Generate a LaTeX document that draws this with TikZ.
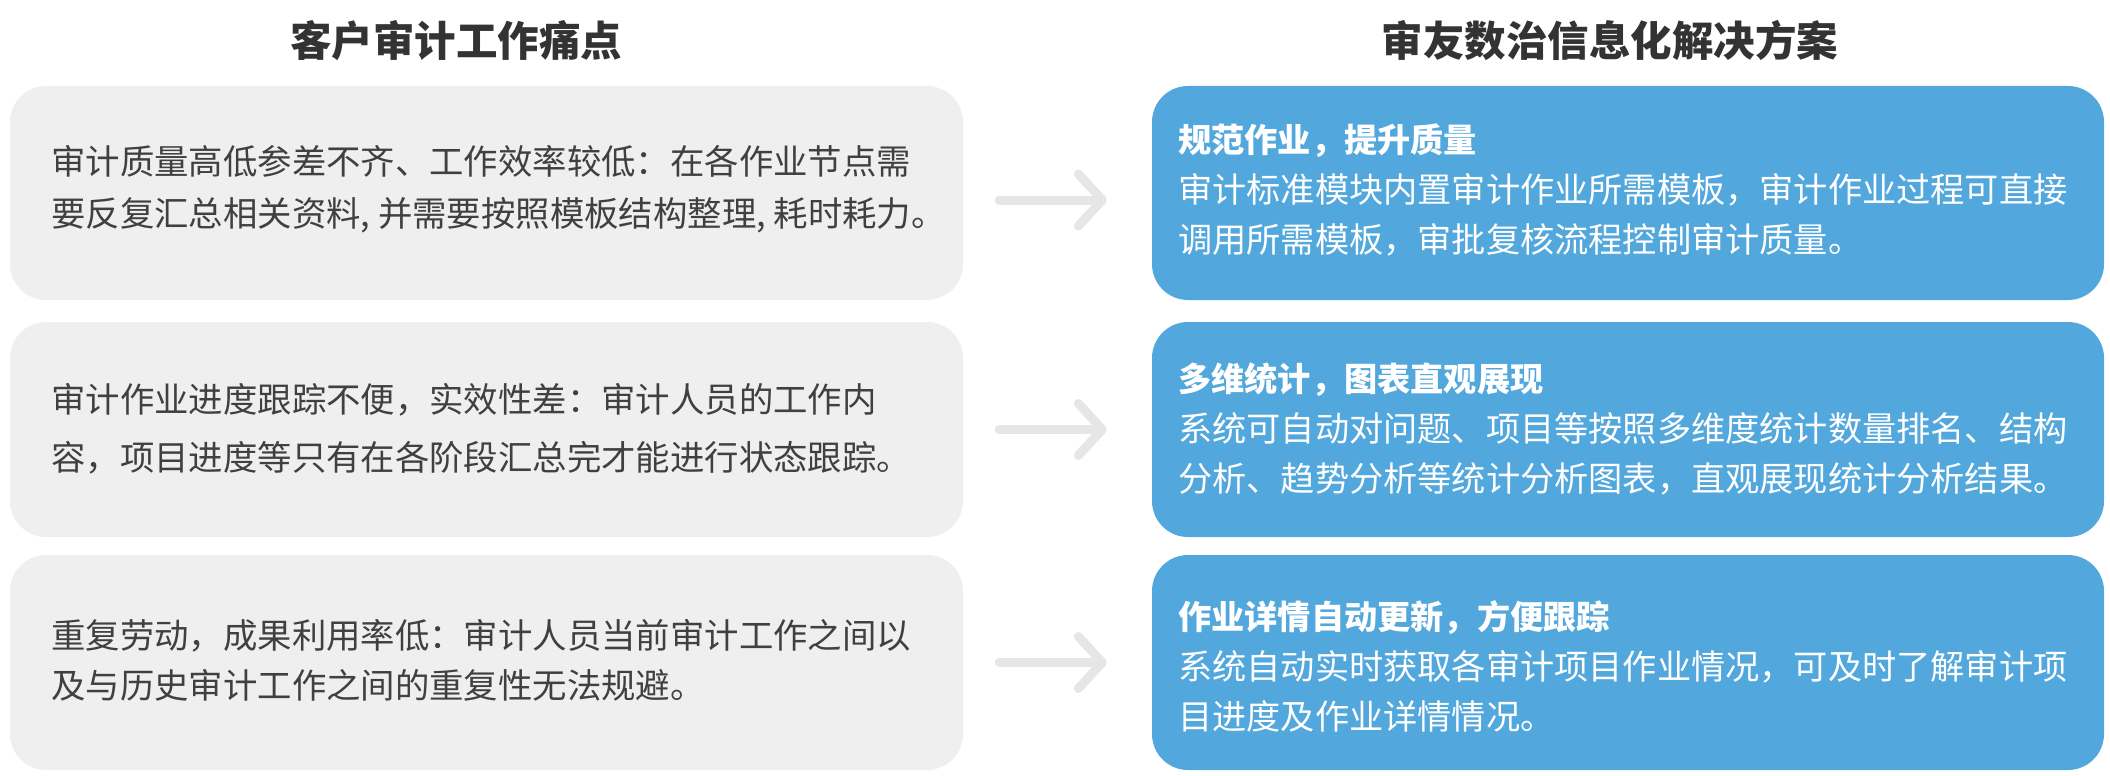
\documentclass[tikz,border=0pt]{standalone}
\usepackage{fontspec}
\newfontfamily\cjk{Noto Sans CJK SC}
\usetikzlibrary{arrows.meta}
\definecolor{leftfill}{HTML}{EFEFEF}
\definecolor{rightfill}{HTML}{52A7DC}
\definecolor{arrowgray}{HTML}{E6E6E6}
\definecolor{titlecol}{HTML}{333333}
\definecolor{bodycol}{HTML}{404040}
\begin{document}
\begin{tikzpicture}[x=1pt,y=-1pt,
  leftbox/.style={fill=leftfill,rounded corners=36pt,draw=none},
  rightbox/.style={fill=rightfill,rounded corners=36pt,draw=none},
  titletext/.style={font=\cjk\bfseries\fontsize{41.5}{50}\selectfont,text=titlecol,inner sep=0pt},
  lefttext/.style={anchor=west,align=left,inner sep=0pt,text=bodycol},
  righttext/.style={anchor=west,align=left,inner sep=0pt,text=white},
  arr/.style={draw=arrowgray,line width=9pt,line cap=round,line join=round,
    -{Straight Barb[length=24pt,width=52pt,round]}}
]
\useasboundingbox (0,0) rectangle (2110,776);

\node[titletext] (t1) at (456,41) {客户审计工作痛点};
\node[titletext] (t2) at (1610,41) {审友数治信息化解决方案};

% left boxes
\node[leftbox,minimum width=953pt,minimum height=214pt,inner sep=0pt] (L1) at (486.5,193) {};
\node[leftbox,minimum width=953pt,minimum height=215pt,inner sep=0pt] (L2) at (486.5,429.5) {};
\node[leftbox,minimum width=953pt,minimum height=215pt,inner sep=0pt] (L3) at (486.5,662.5) {};

% right boxes
\node[rightbox,minimum width=952pt,minimum height=214pt,inner sep=0pt] (R1) at (1628,193) {};
\node[rightbox,minimum width=952pt,minimum height=215pt,inner sep=0pt] (R2) at (1628,429.5) {};
\node[rightbox,minimum width=952pt,minimum height=215pt,inner sep=0pt] (R3) at (1628,662.5) {};

% left texts
\node[lefttext,font=\cjk\fontsize{34.4}{52}\selectfont] (l1) at (51,189)
  {审计质量高低参差不齐、工作效率较低：在各作业节点需\\要反复汇总相关资料, 并需要按照模板结构整理, 耗时耗力。};
\node[lefttext,font=\cjk\fontsize{34.4}{58}\selectfont] (l2) at (51,429)
  {审计作业进度跟踪不便，实效性差：审计人员的工作内\\容，项目进度等只有在各阶段汇总完才能进行状态跟踪。};
\node[lefttext,font=\cjk\fontsize{34.4}{50}\selectfont] (l3) at (51,660)
  {重复劳动，成果利用率低：审计人员当前审计工作之间以\\及与历史审计工作之间的重复性无法规避。};

% right texts
\node[righttext,font=\cjk\fontsize{34.2}{50}\selectfont] (r1) at (1178,190)
  {{\bfseries\fontsize{33.2}{50}\selectfont 规范作业，提升质量}\\审计标准模块内置审计作业所需模板，审计作业过程可直接\\调用所需模板，审批复核流程控制审计质量。};
\node[righttext,font=\cjk\fontsize{34.2}{50}\selectfont] (r2) at (1178,429)
  {{\bfseries\fontsize{33.2}{50}\selectfont 多维统计，图表直观展现}\\系统可自动对问题、项目等按照多维度统计数量排名、结构\\分析、趋势分析等统计分析图表，直观展现统计分析结果。};
\node[righttext,font=\cjk\fontsize{34.2}{50}\selectfont] (r3) at (1178,666)
  {{\bfseries\fontsize{33.2}{50}\selectfont 作业详情自动更新，方便跟踪}\\系统自动实时获取各审计项目作业情况，可及时了解审计项\\目进度及作业详情情况。};

% arrows
\draw[arr,shorten <=36pt,shorten >=45pt] ([yshift=-7pt]L1.east) -- ([yshift=-7pt]R1.west);
\draw[arr,shorten <=36pt,shorten >=45pt] (L2.east) -- (R2.west);
\draw[arr,shorten <=36pt,shorten >=45pt] (L3.east) -- (R3.west);
\end{tikzpicture}
\end{document}
